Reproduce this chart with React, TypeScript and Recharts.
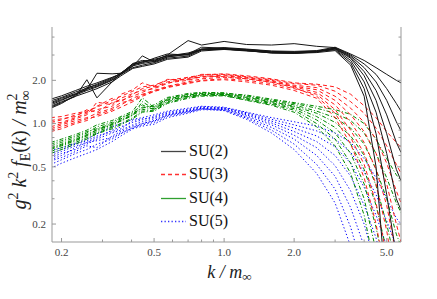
import { LineChart, Line, XAxis, YAxis, Legend, Label } from 'recharts'

// k / m_inf sample points shared by every curve
const K = [0.18, 0.2, 0.23, 0.257, 0.284, 0.33, 0.36, 0.405, 0.445, 0.5, 0.57, 0.7, 0.8, 1.0, 1.25, 1.6, 2.0, 2.5, 3.0, 3.5, 4.0, 4.5, 5.0, 5.5, 5.76]

const SU2_LINES = [
  [1.48, 1.56, 1.70, 1.82, 1.92, 2.10, 2.22, 2.55, 2.70, 2.80, 2.95, 3.10, 3.30, 3.38, 3.30, 3.20, 3.18, 3.22, 3.40, 3.05, 2.75, 2.45, 2.20, 2.00, 1.92],
  [1.30, 1.40, 1.55, 2.02, 1.51, 1.95, 2.22, 2.62, 2.75, 2.72, 3.00, 3.78, 3.52, 3.73, 3.55, 3.52, 3.60, 3.45, 3.38, 3.00, 2.60, 2.20, 1.75, 1.38, 1.22],
  [1.40, 1.50, 1.62, 1.72, 2.24, 2.22, 2.24, 2.50, 2.96, 2.68, 2.90, 3.05, 3.40, 3.35, 3.25, 3.15, 3.12, 3.18, 3.36, 2.95, 2.45, 1.95, 1.45, 1.03, 0.89],
  [1.28, 1.38, 1.58, 1.70, 1.80, 2.00, 2.20, 2.45, 2.55, 2.65, 2.85, 2.95, 3.25, 3.30, 3.22, 3.10, 3.08, 3.15, 3.34, 2.90, 2.30, 1.70, 1.15, 0.74, 0.63],
  [1.35, 1.45, 1.60, 1.78, 1.85, 2.05, 2.25, 2.58, 2.65, 2.85, 3.05, 3.00, 3.30, 3.32, 3.28, 3.18, 3.15, 3.20, 3.32, 2.85, 2.15, 1.45, 0.85, 0.48, 0.40],
  [1.32, 1.42, 1.55, 1.65, 1.75, 1.95, 2.15, 2.42, 2.50, 2.60, 2.80, 2.90, 3.20, 3.28, 3.20, 3.12, 3.10, 3.15, 3.30, 2.75, 1.95, 1.20, 0.62, 0.30, 0.25],
  [1.44, 1.52, 1.66, 1.76, 1.88, 2.08, 2.24, 2.60, 2.68, 2.75, 2.98, 3.05, 3.28, 3.34, 3.26, 3.14, 3.12, 3.18, 3.26, 2.65, 1.75, 0.85, 0.32, 0.12, 0.09],
  [1.38, 1.47, 1.60, 1.74, 1.82, 2.02, 2.20, 2.52, 2.62, 2.70, 2.92, 3.02, 3.26, 3.30, 3.22, 3.10, 3.08, 3.12, 3.22, 2.55, 1.55, 0.50, 0.06, 0.03, 0.02],
]

const SU3_LINES = [
  [1.10, 1.12, 1.18, 1.22, 1.30, 1.45, 1.55, 1.68, 1.80, 1.85, 2.00, 2.10, 2.18, 2.22, 2.15, 2.05, 1.92, 1.88, 1.80, 1.60, 1.33, 1.10, 0.88, 0.74, 0.68],
  [0.95, 1.00, 1.08, 1.15, 1.41, 1.35, 1.60, 1.72, 1.92, 1.80, 1.95, 2.05, 2.20, 2.20, 2.12, 2.02, 1.90, 1.85, 1.68, 1.42, 1.18, 0.93, 0.70, 0.52, 0.45],
  [1.05, 1.08, 1.12, 1.25, 1.20, 1.40, 1.45, 1.55, 1.65, 1.78, 1.92, 2.00, 2.12, 2.18, 2.10, 2.00, 1.85, 1.78, 1.55, 1.28, 1.02, 0.78, 0.53, 0.34, 0.28],
  [0.88, 0.92, 1.00, 1.05, 1.15, 1.25, 1.35, 1.50, 1.60, 1.70, 1.82, 1.95, 2.05, 2.10, 2.05, 1.95, 1.82, 1.72, 1.45, 1.15, 0.88, 0.62, 0.38, 0.20, 0.15],
  [1.00, 1.02, 1.10, 1.18, 1.25, 1.32, 1.50, 1.62, 1.70, 1.75, 1.90, 2.08, 2.10, 2.15, 2.08, 1.98, 1.80, 1.65, 1.35, 1.02, 0.74, 0.48, 0.27, 0.12, 0.09],
  [0.92, 0.98, 1.05, 1.10, 1.18, 1.28, 1.40, 1.45, 1.58, 1.68, 1.80, 1.92, 2.00, 2.05, 2.00, 1.90, 1.75, 1.60, 1.25, 0.90, 0.62, 0.38, 0.18, 0.07, 0.05],
  [1.02, 1.06, 1.15, 1.20, 1.32, 1.50, 1.42, 1.60, 1.75, 1.82, 2.03, 2.02, 2.15, 2.12, 2.05, 1.94, 1.78, 1.55, 1.18, 0.80, 0.52, 0.28, 0.12, 0.04, 0.03],
  [0.90, 0.95, 1.02, 1.08, 1.12, 1.22, 1.30, 1.42, 1.55, 1.67, 1.78, 1.90, 1.98, 2.02, 1.95, 1.85, 1.70, 1.50, 1.10, 0.72, 0.42, 0.20, 0.08, 0.03, 0.02],
]

const SU4_LINES = [
  [0.74, 0.78, 0.84, 0.90, 0.98, 1.05, 1.12, 1.22, 1.51, 1.30, 1.50, 1.60, 1.64, 1.62, 1.58, 1.48, 1.40, 1.32, 1.25, 1.16, 1.00, 0.78, 0.57, 0.44, 0.40],
  [0.70, 0.74, 0.80, 0.86, 0.95, 1.02, 1.10, 1.18, 1.28, 1.35, 1.52, 1.62, 1.65, 1.64, 1.56, 1.46, 1.38, 1.28, 1.18, 1.05, 0.86, 0.62, 0.42, 0.28, 0.24],
  [0.66, 0.70, 0.76, 0.82, 0.88, 0.96, 1.05, 1.15, 1.25, 1.28, 1.45, 1.55, 1.60, 1.60, 1.54, 1.44, 1.35, 1.22, 1.10, 0.93, 0.72, 0.48, 0.30, 0.17, 0.14],
  [0.72, 0.76, 0.82, 0.88, 0.92, 1.00, 1.08, 1.20, 1.35, 1.25, 1.48, 1.58, 1.62, 1.61, 1.52, 1.42, 1.32, 1.18, 1.02, 0.82, 0.60, 0.37, 0.20, 0.10, 0.08],
  [0.64, 0.68, 0.74, 0.80, 0.86, 0.94, 1.00, 1.10, 1.22, 1.24, 1.40, 1.52, 1.58, 1.58, 1.50, 1.40, 1.30, 1.12, 0.94, 0.72, 0.48, 0.27, 0.13, 0.06, 0.05],
  [0.68, 0.72, 0.78, 0.84, 0.90, 0.98, 1.06, 1.16, 1.30, 1.32, 1.46, 1.56, 1.60, 1.59, 1.48, 1.38, 1.27, 1.06, 0.86, 0.62, 0.38, 0.19, 0.08, 0.04, 0.03],
  [0.62, 0.66, 0.72, 0.78, 0.85, 0.92, 0.98, 1.08, 1.20, 1.22, 1.38, 1.50, 1.55, 1.56, 1.46, 1.36, 1.24, 1.00, 0.78, 0.53, 0.30, 0.13, 0.05, 0.02, 0.02],
  [0.67, 0.71, 0.77, 0.83, 0.91, 0.99, 1.04, 1.14, 1.42, 1.26, 1.42, 1.54, 1.57, 1.57, 1.45, 1.34, 1.20, 0.95, 0.70, 0.45, 0.23, 0.09, 0.03, 0.01, 0.01],
]

const SU5_LINES = [
  [0.65, 0.68, 0.73, 0.78, 0.85, 0.95, 1.00, 1.07, 1.10, 1.15, 1.22, 1.28, 1.32, 1.30, 1.20, 1.10, 1.03, 0.96, 0.86, 0.74, 0.57, 0.42, 0.30, 0.22, 0.20],
  [0.60, 0.64, 0.70, 0.74, 0.80, 0.90, 0.95, 1.02, 1.06, 1.12, 1.20, 1.26, 1.31, 1.29, 1.19, 1.07, 0.98, 0.89, 0.78, 0.63, 0.46, 0.32, 0.21, 0.14, 0.11],
  [0.55, 0.58, 0.64, 0.70, 0.68, 0.82, 0.88, 0.96, 1.00, 1.05, 1.15, 1.22, 1.28, 1.28, 1.17, 1.04, 0.93, 0.82, 0.69, 0.53, 0.36, 0.23, 0.14, 0.08, 0.06],
  [0.62, 0.66, 0.72, 0.76, 0.82, 0.88, 0.92, 1.05, 1.08, 1.10, 1.18, 1.24, 1.30, 1.27, 1.15, 1.01, 0.88, 0.75, 0.60, 0.43, 0.27, 0.16, 0.08, 0.04, 0.03],
  [0.52, 0.56, 0.62, 0.66, 0.72, 0.78, 0.85, 0.94, 0.98, 1.02, 1.12, 1.20, 1.26, 1.26, 1.13, 0.98, 0.83, 0.68, 0.51, 0.34, 0.20, 0.10, 0.05, 0.02, 0.02],
  [0.58, 0.62, 0.66, 0.72, 0.78, 0.86, 0.90, 0.98, 1.03, 1.08, 1.16, 1.23, 1.28, 1.25, 1.11, 0.94, 0.78, 0.60, 0.43, 0.26, 0.14, 0.06, 0.03, 0.01, 0.01],
  [0.49, 0.53, 0.58, 0.62, 0.66, 0.75, 0.82, 0.92, 0.96, 0.99, 1.10, 1.18, 1.25, 1.24, 1.09, 0.90, 0.72, 0.52, 0.35, 0.19, 0.09, 0.04, 0.02, 0.01, 0.01],
  [0.56, 0.60, 0.68, 0.74, 0.76, 0.80, 0.86, 0.93, 1.00, 1.04, 1.14, 1.21, 1.27, 1.23, 1.07, 0.86, 0.66, 0.45, 0.28, 0.14, 0.06, 0.02, 0.01, 0.01, 0.01],
]

const X_MAJOR = [0.2, 0.5, 1, 2, 5]
const X_MINOR = [0.3, 0.4, 0.6, 0.7, 0.8, 0.9, 3, 4]
const Y_MAJOR = [0.2, 0.5, 1, 2]
const Y_MINOR = [0.3, 0.4, 0.6, 0.7, 0.8, 0.9, 3, 4]

const FRAME = '#999'
const TICK_TEXT = '#444'
const SERIF = '"Liberation Serif", "DejaVu Serif", serif'

const GROUPS = [
  { key: 'su5', name: 'SU(5)', lines: SU5_LINES, color: '#0000ff', dash: '1.3 2.2', legendDash: '1.3 2.2', legendColor: '#3333ff' },
  { key: 'su4', name: 'SU(4)', lines: SU4_LINES, color: '#008a00', dash: '4 2 1 2', legendDash: undefined, legendColor: '#30a030' },
  { key: 'su3', name: 'SU(3)', lines: SU3_LINES, color: '#ff1a1a', dash: '4 3', legendDash: '4 3', legendColor: '#ff3030' },
  { key: 'su2', name: 'SU(2)', lines: SU2_LINES, color: '#151515', dash: undefined, legendDash: undefined, legendColor: '#444' },
]

const rows = K.map((k, i) => {
  const row: Record<string, number> = { k }
  GROUPS.forEach((g) => g.lines.forEach((l, j) => { row[`${g.key}_${j}`] = l[i] }))
  return row
})

const fmt = (v: number) => v.toFixed(1)

// Mathematica-style frame ticks: pointing into the plot, labels only on majors
function BottomTick({ x, y, payload }: any) {
  const major = X_MAJOR.includes(payload.value)
  const axisY = y - 6
  return (
    <g>
      <line x1={x} x2={x} y1={axisY} y2={axisY - (major ? 4 : 2.5)} stroke={FRAME} />
      {major && (
        <text x={x} y={y} dy="0.71em" textAnchor="middle" fontSize={11} fontFamily={SERIF} fill={TICK_TEXT}>
          {fmt(payload.value)}
        </text>
      )}
    </g>
  )
}

function TopTick({ x, y, payload }: any) {
  const major = X_MAJOR.includes(payload.value)
  return <line x1={x} x2={x} y1={y} y2={y + (major ? 4 : 2.5)} stroke={FRAME} />
}

function LeftTick({ x, y, payload }: any) {
  const major = Y_MAJOR.includes(payload.value)
  const axisX = x + 6
  return (
    <g>
      <line x1={axisX} x2={axisX + (major ? 4 : 2.5)} y1={y} y2={y} stroke={FRAME} />
      {major && (
        <text x={x} y={y} dy="0.35em" textAnchor="end" fontSize={11} fontFamily={SERIF} fill={TICK_TEXT}>
          {fmt(payload.value)}
        </text>
      )}
    </g>
  )
}

function RightTick({ x, y, payload }: any) {
  const major = Y_MAJOR.includes(payload.value)
  return <line x1={x} x2={x - (major ? 4 : 2.5)} y1={y} y2={y} stroke={FRAME} />
}

function XTitle({ viewBox }: any) {
  const cx = viewBox.x + viewBox.width / 2 + 3
  return (
    <text x={cx} y={viewBox.y + 36} textAnchor="middle" fontSize={18} fontFamily={SERIF} fontStyle="italic" fill="#222">
      k / m<tspan fontSize={13} dy={3}>∞</tspan>
    </text>
  )
}

function YTitle() {
  const x = 26
  const y = 150
  return (
    <text x={x} y={y} transform={`rotate(-90, ${x}, ${y})`} textAnchor="middle" fontSize={20} fontFamily={SERIF} fontStyle="italic" fill="#222">
      g<tspan fontSize={14} fontStyle="normal" dy={-8}>2</tspan>
      <tspan dy={8}> k</tspan>
      <tspan fontSize={14} fontStyle="normal" dy={-8}>2</tspan>
      <tspan dy={8}> f</tspan>
      <tspan fontSize={14} fontStyle="normal" dy={4}>E</tspan>
      <tspan fontStyle="normal" dy={-4}>(</tspan>
      <tspan>k</tspan>
      <tspan fontStyle="normal">)</tspan>
      <tspan> / m</tspan>
      <tspan fontSize={14} fontStyle="normal" dy={4}>∞</tspan>
      <tspan fontSize={14} fontStyle="normal" dx={-10} dy={-13}>2</tspan>
    </text>
  )
}

function LegendBox() {
  const order = [...GROUPS].reverse()
  return (
    <svg width={80} height={100} style={{ overflow: 'visible' }}>
      {order.map((g, i) => {
        const ly = Math.round(11 + i * 23.3) + 0.5
        return (
          <g key={g.key}>
            <line x1={0} x2={25} y1={ly} y2={ly} stroke={g.legendColor} strokeWidth={1.3} strokeDasharray={g.legendDash} />
            <text x={28} y={16 + i * 23.3} fontSize={16} fontFamily={SERIF} fill="#111">{g.name}</text>
          </g>
        )
      })}
    </svg>
  )
}

export default function App() {
  return (
    <div style={{ position: 'absolute', left: 0, top: 0, background: '#fff' }}>
      <LineChart width={437} height={299} data={rows} margin={{ top: 27, right: 0, bottom: 0, left: 0 }}>
        <XAxis
          xAxisId="b"
          dataKey="k"
          type="number"
          scale="log"
          domain={[0.182, 5.76]}
          allowDataOverflow
          ticks={[...X_MAJOR, ...X_MINOR]}
          interval={0}
          tick={(p: any) => <BottomTick {...p} />}
          tickSize={0}
          tickMargin={6}
          tickLine={false}
          axisLine={{ stroke: FRAME }}
          height={57}
        >
          <Label content={(p: any) => <XTitle {...p} />} />
        </XAxis>
        <XAxis
          xAxisId="t"
          orientation="top"
          dataKey="k"
          type="number"
          scale="log"
          domain={[0.182, 5.76]}
          allowDataOverflow
          ticks={[...X_MAJOR, ...X_MINOR]}
          interval={0}
          tick={(p: any) => <TopTick {...p} />}
          tickSize={0}
          tickMargin={0}
          tickLine={false}
          axisLine={{ stroke: FRAME }}
          height={0}
        />
        <YAxis
          yAxisId="l"
          type="number"
          scale="log"
          domain={[0.15, 4.7]}
          allowDataOverflow
          ticks={[...Y_MAJOR, ...Y_MINOR]}
          interval={0}
          tick={(p: any) => <LeftTick {...p} />}
          tickSize={0}
          tickMargin={6}
          tickLine={false}
          axisLine={{ stroke: FRAME }}
          width={52}
        >
          <Label content={() => <YTitle />} />
        </YAxis>
        <YAxis
          yAxisId="r"
          orientation="right"
          type="number"
          scale="log"
          domain={[0.15, 4.7]}
          allowDataOverflow
          ticks={[...Y_MAJOR, ...Y_MINOR]}
          interval={0}
          tick={(p: any) => <RightTick {...p} />}
          tickSize={0}
          tickMargin={0}
          tickLine={false}
          axisLine={{ stroke: FRAME }}
          width={36}
        />
        {GROUPS.map((g) =>
          g.lines.map((_, j) => (
            <Line
              key={`${g.key}_${j}`}
              xAxisId="b"
              yAxisId="l"
              dataKey={`${g.key}_${j}`}
              name={g.name}
              type="linear"
              stroke={g.color}
              strokeWidth={1}
              strokeDasharray={g.dash}
              dot={false}
              activeDot={false}
              legendType="none"
              isAnimationActive={false}
            />
          ))
        )}
        <Legend
          layout="vertical"
          align="center"
          verticalAlign="middle"
          content={() => <LegendBox />}
          wrapperStyle={{ left: 161, top: 140, width: 80, height: 100 }}
        />
      </LineChart>
    </div>
  )
}
